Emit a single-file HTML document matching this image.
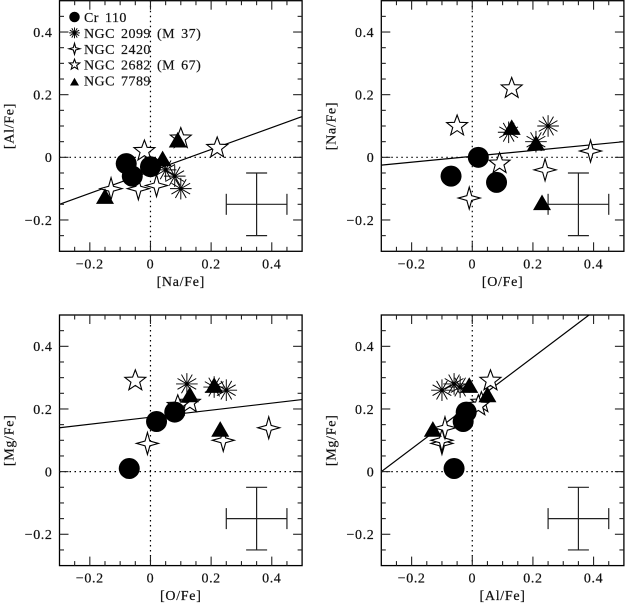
<!DOCTYPE html>
<html>
<head>
<meta charset="utf-8">
<title>Abundance ratio panels</title>
<style>
html,body{margin:0;padding:0;background:#fff;}
svg{display:block;}
text{font-family:"Liberation Serif",serif;fill:#111;stroke:#111;stroke-width:0.2px;}
</style>
</head>
<body>
<svg id="chart" xmlns="http://www.w3.org/2000/svg" width="625" height="603" viewBox="0 0 625 603"></svg>
<script>
const cr110Na = [-0.06, 0.00, -0.08];
const cr110O = [-0.07, 0.02, 0.08];
const cr110Al = [-0.06, -0.03, -0.02];
const cr110Mg = [0.01, 0.16, 0.19];

const ngc2099Na = [0.08, 0.05, 0.10];
const ngc2099O = [0.12, 0.21, 0.25];
const ngc2099Al = [-0.06, -0.04, -0.10];
const ngc2099Mg = [0.28, 0.27, 0.26];

const ngc2420Na = [-0.13, -0.04, 0.02];
const ngc2420O = [-0.01, 0.24, 0.39];
const ngc2420Al = [-0.10, -0.10, -0.09];
const ngc2420Mg = [0.09, 0.10, 0.14];

const ngc2682Na = [0.10, 0.22, -0.02];
const ngc2682O = [-0.05, 0.13, 0.09];
const ngc2682Al = [0.06, 0.03, 0.02];
const ngc2682Mg = [0.29, 0.22, 0.21];

const ngc7789Na = [0.09, 0.04, -0.15];
const ngc7789O = [0.13, 0.21, 0.23];
const ngc7789Al = [0.05, -0.01, -0.13];
const ngc7789Mg = [0.24, 0.27, 0.13];

const xTickLabels = [-0.2, 0, 0.2, 0.4];
const yTickLabels = [-0.2, 0, 0.2, 0.4];
const legendLabels = ["Cr 110", "NGC 2099 (M 37)", "NGC 2420", "NGC 2682 (M 67)", "NGC 7789"];

const fitNaAlEnds = [[-0.3, -0.15], [0.5, 0.13]];
const fitONaEnds = [[-0.3, -0.025], [0.5, 0.05]];
const fitOMgEnds = [[-0.3, 0.14], [0.5, 0.23]];
const fitAlMgEnds = [[-0.3, 0], [0.385, 0.5]];
const errorBarCentre = [0.35, -0.15];
const errorBarSize = [0.10, 0.10];

const NS = "http://www.w3.org/2000/svg";
const root = document.getElementById("chart");

function el(parent, tag, attrs, text) {
  const e = document.createElementNS(NS, tag);
  for (const k in attrs) e.setAttribute(k, attrs[k]);
  if (text !== undefined) e.textContent = text;
  parent.appendChild(e);
  return e;
}
function fmt(v) {
  if (v === 0) return "0";
  return (v < 0 ? "\u2212" : "") + Math.abs(v).toFixed(1);
}
function starPts(cx, cy, n, R, r) {
  const p = [];
  for (let i = 0; i < n * 2; i++) {
    const a = -Math.PI / 2 + i * Math.PI / n;
    const q = i % 2 ? r : R;
    p.push((cx + q * Math.cos(a)).toFixed(2) + "," + (cy + q * Math.sin(a)).toFixed(2));
  }
  return p.join(" ");
}
function drawCircle(g, x, y, s) {
  const m = el(g, "circle", {cx: x, cy: y, r: 10.5 * s, fill: "#000"});
  
  
}
function drawAsterisk(g, x, y, s) {
  const m = el(g, "g", {stroke: "#000", "stroke-width": 0.95});
  
  
  for (let i = 0; i < 6; i++) {
    const a = i * Math.PI / 6;
    const R = 10.8 * s;
    el(m, "line", {x1: x - R * Math.cos(a), y1: y - R * Math.sin(a), x2: x + R * Math.cos(a), y2: y + R * Math.sin(a)});
  }
  el(m, "circle", {cx: x, cy: y, r: 1.8 * s, fill: "#000", stroke: "none"});
}
function drawFour(g, x, y, s) {
  const m = el(g, "polygon", {points: starPts(x, y, 4, 11 * s, 3.4 * s), fill: "#fff", stroke: "#000", "stroke-width": 1.1});
  
  
}
function drawFive(g, x, y, s) {
  const m = el(g, "polygon", {points: starPts(x, y, 5, 11 * s, 4.6 * s), fill: "#fff", stroke: "#000", "stroke-width": 1.1});
  
  
}
function drawTriangle(g, x, y, s) {
  const pts = [[x, y - 9.8 * s], [x + 9 * s, y + 5.8 * s], [x - 9 * s, y + 5.8 * s]].map(p => p.join(",")).join(" ");
  const m = el(g, "polygon", {points: pts, fill: "#000"});
  
  
}

function drawPanel(cfg) {
  const L = cfg.left, R = cfg.left + 242.6, T = cfg.top, B = cfg.top + 250.6;
  const sx = v => L + (v + 0.3) / 0.8 * (R - L);
  const sy = v => B - (v + 0.3) / 0.8 * (B - T);

  const g = el(root, "g", {});
  
  

  const dots = el(g, "g", {stroke: "#000", "stroke-width": 1.2, "stroke-dasharray": "1.5 3.5"});
  
  
  el(dots, "line", {x1: sx(0), y1: T, x2: sx(0), y2: B});
  el(dots, "line", {x1: L, y1: sy(0), x2: R, y2: sy(0)});

  const fit = el(g, "line", {x1: sx(cfg.fit[0][0]), y1: sy(cfg.fit[0][1]), x2: sx(cfg.fit[1][0]), y2: sy(cfg.fit[1][1]), stroke: "#000", "stroke-width": 1.2});
  
  

  const err = el(g, "g", {stroke: "#222", "stroke-width": 1.2, fill: "none"});
  
  
  const ex = sx(errorBarCentre[0]), ey = sy(errorBarCentre[1]);
  const x0 = sx(errorBarCentre[0] - errorBarSize[0]), x1 = sx(errorBarCentre[0] + errorBarSize[0]);
  const y0 = sy(errorBarCentre[1] + errorBarSize[1]), y1 = sy(errorBarCentre[1] - errorBarSize[1]);
  el(err, "line", {x1: x0, y1: ey, x2: x1, y2: ey});
  el(err, "line", {x1: ex, y1: y0, x2: ex, y2: y1});
  el(err, "line", {x1: x0, y1: ey - 10.5, x2: x0, y2: ey + 10.5});
  el(err, "line", {x1: x1, y1: ey - 10.5, x2: x1, y2: ey + 10.5});
  el(err, "line", {x1: ex - 10.5, y1: y0, x2: ex + 10.5, y2: y0});
  el(err, "line", {x1: ex - 10.5, y1: y1, x2: ex + 10.5, y2: y1});

  cfg.series.forEach(s => {
    s.xs.forEach((xv, i) => s.draw(g, sx(xv), sy(s.ys[i]), 1));
  });

  const frame = el(g, "rect", {x: L, y: T, width: R - L, height: B - T, fill: "none", stroke: "#000", "stroke-width": 1.3});
  
  

  const ticks = el(g, "g", {stroke: "#222", "stroke-width": 1.1});
  
  
  for (let i = -5; i <= 9; i++) {
    const v = i * 0.05;
    const major = i % 4 === 0;
    const len = major ? 9 : 4.5;
    el(ticks, "line", {x1: sx(v), y1: B, x2: sx(v), y2: B - len});
    el(ticks, "line", {x1: sx(v), y1: T, x2: sx(v), y2: T + len});
    el(ticks, "line", {x1: L, y1: sy(v), x2: L + len, y2: sy(v)});
    el(ticks, "line", {x1: R, y1: sy(v), x2: R - len, y2: sy(v)});
  }

  xTickLabels.forEach(v => {
    const t = el(g, "text", {x: sx(v), y: B + 17, "text-anchor": "middle", "font-size": 14, "letter-spacing": 0.6}, fmt(v));
    
    
  });
  yTickLabels.forEach(v => {
    const t = el(g, "text", {x: L - 7, y: sy(v) + 4.8, "text-anchor": "end", "font-size": 14, "letter-spacing": 0.6}, fmt(v));
    
    
  });

  const xt = el(g, "text", {x: (L + R) / 2, y: B + 34.5, "text-anchor": "middle", "font-size": 14, "letter-spacing": 0.7}, cfg.xLabel);
  
  
  const yx = L - 46, yy = (T + B) / 2;
  const yt = el(g, "text", {x: yx, y: yy, "text-anchor": "middle", "font-size": 14, "letter-spacing": 0.7, transform: "rotate(-90 " + yx + " " + yy + ")"}, cfg.yLabel);
  
  
}

function seriesFor(xs2682, ys2682, xs2420, ys2420, xs2099, ys2099, xs7789, ys7789, xsCr, ysCr) {
  return [
    {xs: xs2682, ys: ys2682, draw: drawFive},
    {xs: xs2420, ys: ys2420, draw: drawFour},
    {xs: xs2099, ys: ys2099, draw: drawAsterisk},
    {xs: xs7789, ys: ys7789, draw: drawTriangle},
    {xs: xsCr, ys: ysCr, draw: drawCircle}
  ];
}

drawPanel({name: "panel-al-vs-na", left: 59.5, top: 0.7, xLabel: "[Na/Fe]", yLabel: "[Al/Fe]", fit: fitNaAlEnds,
  series: seriesFor(ngc2682Na, ngc2682Al, ngc2420Na, ngc2420Al, ngc2099Na, ngc2099Al, ngc7789Na, ngc7789Al, cr110Na, cr110Al)});
drawPanel({name: "panel-na-vs-o", left: 381.3, top: 0.7, xLabel: "[O/Fe]", yLabel: "[Na/Fe]", fit: fitONaEnds,
  series: seriesFor(ngc2682O, ngc2682Na, ngc2420O, ngc2420Na, ngc2099O, ngc2099Na, ngc7789O, ngc7789Na, cr110O, cr110Na)});
drawPanel({name: "panel-mg-vs-o", left: 59.5, top: 315, xLabel: "[O/Fe]", yLabel: "[Mg/Fe]", fit: fitOMgEnds,
  series: seriesFor(ngc2682O, ngc2682Mg, ngc2420O, ngc2420Mg, ngc2099O, ngc2099Mg, ngc7789O, ngc7789Mg, cr110O, cr110Mg)});
drawPanel({name: "panel-mg-vs-al", left: 381.3, top: 315, xLabel: "[Al/Fe]", yLabel: "[Mg/Fe]", fit: fitAlMgEnds,
  series: seriesFor(ngc2682Al, ngc2682Mg, ngc2420Al, ngc2420Mg, ngc2099Al, ngc2099Mg, ngc7789Al, ngc7789Mg, cr110Al, cr110Mg)});

const legend = el(root, "g", {});


const legendDraw = [drawCircle, drawAsterisk, drawFour, drawFive, drawTriangle];
legendLabels.forEach((label, i) => {
  const rowY = 17 + i * 15.9;
  legendDraw[i](legend, 74.5, rowY + (i === 4 ? 2 : 0), 0.5);
  const t = el(legend, "text", {x: 84, y: rowY + 5, "font-size": 14, "letter-spacing": 0.45, "word-spacing": 2.2}, label);
  
  
});
</script>
</body>
</html>
